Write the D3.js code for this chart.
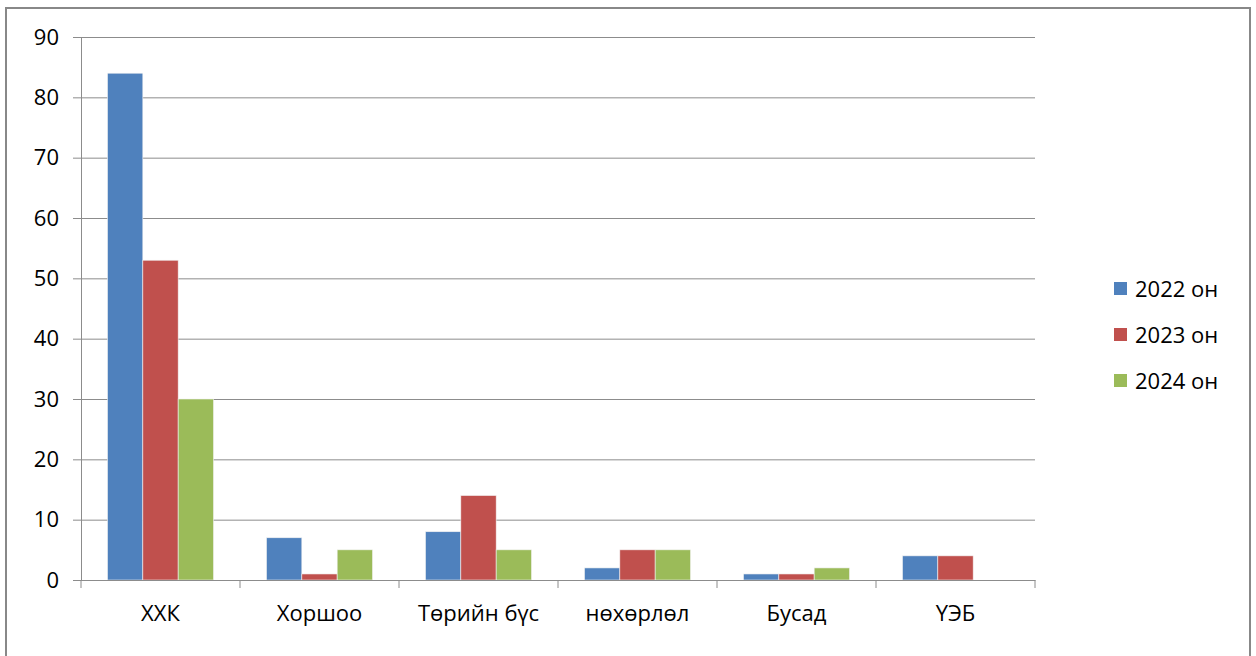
<!DOCTYPE html>
<html>
<head>
<meta charset="utf-8">
<script src="https://cdn.jsdelivr.net/npm/d3@7"></script>
<style>
  body { margin: 0; background: #fff; }
  text { font-family: "Open Sans", "Liberation Sans", sans-serif; fill: #000; }
</style>
</head>
<body>
<svg id="chart" width="1256" height="656"></svg>
<script>
// data
const categories = ["ХХК", "Хоршоо", "Төрийн бүс", "нөхөрлөл", "Бусад", "ҮЭБ"];
const series = ["2022 он", "2023 он", "2024 он"];
const values_2022 = [84, 7, 8, 2, 1, 4];
const values_2023 = [53, 1, 14, 5, 1, 4];
const values_2024 = [30, 5, 5, 5, 2, null];
const y_ticks = [0, 10, 20, 30, 40, 50, 60, 70, 80, 90];
const colors = ["#4F81BD", "#C0504D", "#9BBB59"];

const svg = d3.select("#chart");
const margin = { left: 81, right: 1035, top: 37, bottom: 580 };
const font_size = "22px";

// outer frame
svg.append("rect")
  .attr("x", 6).attr("y", 8)
  .attr("width", 1244).attr("height", 660)
  .attr("fill", "none")
  .attr("stroke", "#888")
  .attr("stroke-width", 2);

// scales
const x_scale = d3.scaleBand()
  .domain(categories)
  .range([margin.left, margin.right])
  .paddingInner(0)
  .paddingOuter(0);

// excel style gap width 150%
const x_inner = d3.scaleBand()
  .domain(series)
  .range([0, x_scale.bandwidth()])
  .paddingOuter(0.75)
  .paddingInner(0);

const y_scale = d3.scaleLinear().domain([0, 90]).range([margin.bottom, margin.top]);

// grid lines
svg.append("g")
  .attr("class", "grid")
  .attr("transform", "translate(" + margin.left + ",0)")
  .call(d3.axisLeft(y_scale).tickValues(y_ticks)
    .tickSize(-(margin.right - margin.left)).tickFormat(""))
  .call(g => g.select(".domain").remove())
  .call(g => g.selectAll("line").attr("stroke", "#8c8c8c").attr("stroke-width", 1));

// y axis
svg.append("g")
  .attr("class", "y_axis")
  .attr("transform", "translate(" + margin.left + ",0)")
  .call(d3.axisLeft(y_scale).tickValues(y_ticks).tickSize(8).tickSizeOuter(0).tickPadding(14))
  .call(g => g.select(".domain").attr("stroke", "#8c8c8c"))
  .call(g => g.selectAll("line").attr("stroke", "#8c8c8c"))
  .call(g => g.selectAll("text").style("font-size", font_size).attr("fill", "#000"));

// bars
const rows = categories.map(function (c, i) {
  return { cat: c, vals: [values_2022[i], values_2023[i], values_2024[i]] };
});

const groups = svg.append("g")
  .attr("class", "bars")
  .selectAll(null)
  .data(rows)
  .enter()
  .append("g")
  .attr("transform", function (d) { return "translate(" + x_scale(d.cat) + ",0)"; });

groups.selectAll("rect")
  .data(function (d) {
    return d.vals.map(function (v, j) { return { s: series[j], v: v, j: j }; })
      .filter(function (e) { return e.v != null; });
  })
  .enter()
  .append("rect")
  .attr("x", function (d) { return x_inner(d.s); })
  .attr("width", x_inner.bandwidth())
  .attr("y", function (d) { return y_scale(d.v); })
  .attr("height", function (d) { return y_scale(0) - y_scale(d.v); })
  .attr("fill", function (d) { return colors[d.j]; })
  .attr("stroke", "#f2f2f2")
  .attr("stroke-width", 0.6);

// x axis
svg.append("g")
  .attr("class", "x_axis")
  .attr("transform", "translate(0," + margin.bottom + ")")
  .call(d3.axisBottom(x_scale).tickSize(0).tickPadding(25))
  .call(g => g.select(".domain").attr("stroke", "#8c8c8c"))
  .call(g => g.selectAll("text").style("font-size", font_size).attr("fill", "#000"));

// category boundary ticks
svg.append("g")
  .attr("class", "x_ticks")
  .selectAll(null)
  .data(categories.concat(["end"]))
  .enter()
  .append("line")
  .attr("x1", function (d, i) { return i < categories.length ? x_scale(d) : margin.right; })
  .attr("x2", function (d, i) { return i < categories.length ? x_scale(d) : margin.right; })
  .attr("y1", margin.bottom)
  .attr("y2", margin.bottom + 8)
  .attr("stroke", "#8c8c8c");

// legend
const leg = svg.append("g")
  .attr("class", "legend")
  .selectAll(null)
  .data(series)
  .enter()
  .append("g")
  .attr("transform", function (d, i) { return "translate(1114," + (289 + i * 46) + ")"; });

leg.append("rect")
  .attr("x", 0).attr("y", -7)
  .attr("width", 13).attr("height", 13)
  .attr("fill", function (d, i) { return colors[i]; });

leg.append("text")
  .attr("x", 21)
  .attr("y", 0)
  .attr("dy", "0.35em")
  .style("font-size", font_size)
  .text(function (d) { return d; });
</script>
</body>
</html>
